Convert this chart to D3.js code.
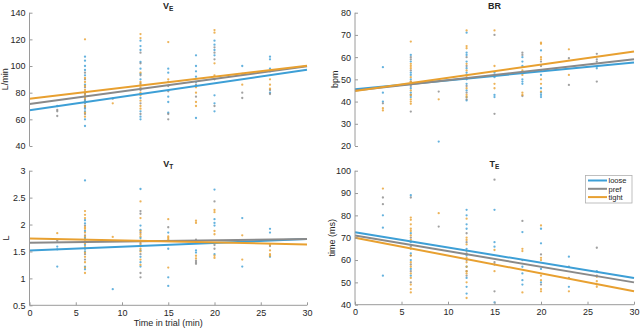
<!DOCTYPE html>
<html><head><meta charset="utf-8">
<script src="https://cdn.jsdelivr.net/npm/d3@7"></script>
<style>
body{margin:0;background:#fff;}
svg{display:block;font-family:"Liberation Sans",Arial,sans-serif;}
</style></head>
<body><svg id="c" width="640" height="329"></svg>
<script>
// ---------- DATA ----------
const conditions = ["loose","pref","tight"];
const condColors = ["#3d9fd6","#8a8a8a","#e8a030"];
const xTicks = [0,5,10,15,20,25,30];

// VE (L/min)  [time, value]
const veLoose = [[3,70],[6,107],[6,104],[6,100],[6,97],[6,93],[6,86],[6,80],[6,77],[6,74],[6,70],[6,68],[6,66],[6,60],[6,55],
 [12,119],[12,115],[12,112],[12,103],[12,98],[12,94],[12,90],[12,83],[12,76],[12,66],[12,62],[12,60],
 [15,98],[15,95],[15,77],[15,73],[15,65],[18,108],[18,100],[18,96],[18,92],[18,88],[18,61],
 [20,119],[20,116],[20,112],[20,108],[20,78],[20,72],[20,66],[23,100],[26,107],[26,105],[26,98],[26,80]];
const vePref = [[3,67],[3,66],[3,62.5],[6,95],[6,90],[6,84],[6,79],[6,75],[6,72],[6,69],[6,64],[9,75.5],
 [12,110],[12,102],[12,93],[12,87],[12,82],[12,79],[12,72],[12,64],[15,88],[15,85],[15,81],[15,64],[15,60],
 [18,86],[18,77],[20,114],[20,110],[20,105],[20,90],[20,70],[23,94],[23,80],[23,76],[26,96],[26,79],[26,82]];
const veTight = [[6,120],[6,91],[6,88],[6,85],[6,82],[6,80],[6,78],[6,76],[6,73],[6,70],[6,65],[6,62],[9,72],
 [12,124],[12,121],[12,95],[12,88],[12,86],[12,84],[12,80],[12,78],[12,74],[12,70],[12,68],[15,118],[15,90],
 [18,84],[18,80],[18,73],[18,70],[20,127],[20,125],[20,102],[20,93],[23,86],[26,90],[26,86],[26,83]];
const veFit = [[66.8,97.2],[71.5,99.8],[75.5,100.2]]; // [value at t=0, value at t=30] loose, pref, tight
const veTicks = [40,60,80,100,120,140];

// BR (bpm)
const brLoose = [[3,55.5],[3,44],[3,40],[6,61],[6,58],[6,53],[6,52],[6,50],[6,48],[6,46],[6,44],[6,42],[9,22],
 [12,71],[12,62],[12,61],[12,58],[12,55],[12,53],[12,50],[12,48],[12,45],[12,42],[12,40.5],[15,53],[15,51],[15,43],[15,42],
 [18,60],[18,58],[18,56],[18,50],[18,49],[18,48],[20,63],[20,52],[20,46],[20,44],[20,43],[20,42],[26,55]];
const brPref = [[3,39.2],[6,60],[6,59],[6,54],[6,49],[6,47],[6,43],[6,35.5],[9,44.5],[12,60],[12,56],[12,52],[12,47],[12,44],[12,41],
 [15,70],[15,34.5],[18,62],[18,61],[18,42.5],[20,58],[20,56],[20,54],[23,59.5],[23,47.5],[26,61.5],[26,59],[26,58],[26,49]];
const brTight = [[3,37],[3,36],[6,67],[6,57],[6,56],[6,55],[6,51],[6,49],[6,45],[6,43],[6,41],[6,40],[6,39],[9,41],
 [12,72],[12,65],[12,64],[12,57],[12,54],[12,51],[12,46],[12,43],[12,42],[15,72],[15,56],[15,48],[15,46],
 [18,54],[18,52],[18,44],[18,43],[20,66.5],[20,66],[20,60],[20,59],[20,50],[20,48],[20,44.5],[23,63.5],[23,52]];
const brFit = [[45.5,57.6],[45.0,59.0],[44.8,62.5]];
const brTicks = [20,30,40,50,60,70,80];

// VT (L)
const vtLoose = [[3,1.59],[3,1.54],[3,1.22],[6,2.82],[6,2.08],[6,2.02],[6,1.88],[6,1.75],[6,1.62],[6,1.55],[6,1.5],[6,1.22],[6,1.17],[9,0.8],
 [12,2.66],[12,1.98],[12,1.9],[12,1.75],[12,1.6],[12,1.52],[12,1.4],[12,1.3],[12,1.22],[15,1.85],[15,1.55],[15,1.02],[15,0.86],
 [18,1.52],[18,1.48],[20,2.65],[20,2.1],[20,2.03],[20,1.98],[20,1.45],[23,2.12],[23,1.22],[26,1.92],[26,1.85],[26,1.4]];
const vtPref = [[3,1.7],[6,1.98],[6,1.8],[6,1.68],[6,1.45],[6,1.35],[12,2.25],[12,2.2],[12,1.85],[12,1.65],[12,1.45],[12,1.1],[12,1.02],
 [15,1.95],[18,1.72],[18,1.33],[18,1.3],[18,1.27],[20,2.43],[20,1.62],[20,1.55],[26,1.6]];
const vtTight = [[3,1.84],[6,2.25],[6,2.18],[6,2.12],[6,1.95],[6,1.92],[6,1.85],[6,1.78],[6,1.72],[6,1.65],[6,1.58],[6,1.48],[6,1.4],[6,1.3],[6,1.2],[6,1.1],[9,1.77],
 [12,2.43],[12,2.12],[12,1.88],[12,1.82],[12,1.78],[12,1.7],[12,1.68],[12,1.62],[12,1.55],[12,1.5],[12,1.35],[12,1.25],
 [15,2.1],[15,1.78],[15,1.75],[15,1.72],[15,1.2],[18,2.07],[18,2.03],[18,1.42],[18,1.37],
 [20,2.27],[20,2.23],[20,1.88],[20,1.82],[20,1.42],[20,1.38],[23,1.8],[23,1.35],[26,1.62],[26,1.52],[26,1.45],[26,1.42]];
const vtFit = [[1.52,1.73],[1.66,1.73],[1.74,1.63]];
const vtTicks = [0.5,1,1.5,2,2.5,3];

// TE (ms)
const teLoose = [[3,80],[3,74.5],[3,53],[6,89],[6,72],[6,68],[6,63],[6,60],[6,56],[6,53],
 [12,82.5],[12,80],[12,76],[12,74],[12,65],[12,62],[12,57],[12,52],[12,48],[12,45],[15,82.5],[15,68],[15,66],[15,41],
 [18,72.5],[18,57],[18,54],[18,51],[18,49],[20,74],[20,67.5],[20,56],[20,50],[23,61.5],[23,48],[26,55]];
const tePref = [[3,88],[3,85],[6,88],[6,70],[6,66],[6,62],[6,58],[6,55],[6,50],[9,75],[12,72],[12,68],[12,63],[12,60],[12,55],[12,53],
 [15,96],[15,59],[15,58],[15,46],[18,77.5],[18,60],[20,62.5],[20,49],[23,57],[23,52],[26,65.5],[26,53]];
const teTight = [[3,92],[6,79],[6,78],[6,76],[6,74],[6,73],[6,71],[6,69],[6,65],[6,62],[6,59],[6,57],[6,54],[6,52],[6,49],[6,47],[6,45.5],[9,81],
 [12,78.5],[12,70],[12,69],[12,67],[12,64],[12,61],[12,59],[12,57],[12,55],[12,54],[12,50],[12,43],[15,64.5],[15,55],
 [18,65],[18,64],[18,45.5],[20,75.5],[20,61],[20,60],[20,53],[20,51],[20,47],[20,46],[23,46],[26,52.5],[26,50.5],[26,49],[26,48]];
const teFit = [[72.4,52.0],[71.0,50.0],[70.0,46.0]];
const teTicks = [40,50,60,70,80,90,100];

// ---------- DRAW ----------
const svg = d3.select("#c");
const axisColor = "#9a9a9a", textColor = "#262626";

const panels = [
  {title:"V", sub:"E", ylab:"L/min", box:[29.5,307,12.7,146], dom:[40,140], ticks:veTicks, data:[veLoose,vePref,veTight], fit:veFit, xaxis:false, labx:7.5},
  {title:"BR", sub:"", ylab:"bpm", box:[355,634,12.7,146], dom:[20,80], ticks:brTicks, data:[brLoose,brPref,brTight], fit:brFit, xaxis:false, labx:338},
  {title:"V", sub:"T", ylab:"L", box:[29.5,307,170.7,305.3], dom:[0.5,3], ticks:vtTicks, data:[vtLoose,vtPref,vtTight], fit:vtFit, xaxis:true, xlabel:"Time in trial (min)", labx:8.5},
  {title:"T", sub:"E", ylab:"time (ms)", box:[355,634,170.7,304.7], dom:[40,100], ticks:teTicks, data:[teLoose,tePref,teTight], fit:teFit, xaxis:true, legend:true, labx:335}
];

panels.forEach(p => {
  const [l,r,t,b] = p.box;
  const x = d3.scaleLinear().domain([0,30]).range([l,r]);
  const y = d3.scaleLinear().domain(p.dom).range([b,t]);
  const g = svg.append("g");

  // points
  p.data.forEach((ser,i) => {
    g.append("g").selectAll("circle").data(ser).join("circle")
      .attr("cx", d => x(d[0])).attr("cy", d => y(d[1])).attr("r", 1.15)
      .attr("fill", condColors[i]).attr("opacity", 0.8);
  });
  // fit lines
  p.fit.forEach((f,i) => {
    g.append("line").attr("x1", x(0)).attr("x2", x(30)).attr("y1", y(f[0])).attr("y2", y(f[1]))
      .attr("stroke", condColors[i]).attr("stroke-width", 2);
  });

  // y axis
  const ya = g.append("g").attr("transform", `translate(${l},0)`)
    .call(d3.axisLeft(y).tickValues(p.ticks).tickSize(-3).tickPadding(4).tickFormat(d3.format("~g")));
  ya.select(".domain").attr("stroke", axisColor).attr("d", `M0,${b}V${t}`);
  ya.selectAll(".tick line").attr("stroke", axisColor);
  ya.selectAll("text").attr("fill", textColor).attr("font-size", 9).attr("font-family","Liberation Sans, Arial, sans-serif");

  if (p.xaxis) {
    const xa = g.append("g").attr("transform", `translate(0,${b})`)
      .call(d3.axisBottom(x).tickValues(xTicks).tickSize(-3).tickPadding(4));
    xa.select(".domain").attr("stroke", axisColor).attr("d", `M${l},0H${r}`);
    xa.selectAll(".tick line").attr("stroke", axisColor);
    xa.selectAll("text").attr("fill", textColor).attr("font-size", 9).attr("font-family","Liberation Sans, Arial, sans-serif");
    if (p.xlabel) {
      g.append("text").attr("x", (l+r)/2).attr("y", b+21).attr("text-anchor","middle")
        .attr("font-size", 9).attr("fill", textColor).text(p.xlabel);
    }
  }

  // title
  const tt = g.append("text").attr("x", (l+r)/2).attr("y", t-4).attr("text-anchor","middle")
    .attr("font-size", 9).attr("font-weight","bold").attr("fill", textColor);
  tt.append("tspan").text(p.title);
  if (p.sub) tt.append("tspan").attr("font-size", 6.5).attr("dy", 2).text(p.sub);

  // y label
  g.append("text").attr("transform", `translate(${p.labx},${(t+b)/2}) rotate(-90)`)
    .attr("text-anchor","middle").attr("font-size", 9).attr("fill", textColor).text(p.ylab);

  if (p.legend) {
    const lg = g.append("g");
    lg.append("rect").attr("x", 585.5).attr("y", 175.5).attr("width", 46.5).attr("height", 27.5)
      .attr("fill","#fff").attr("stroke","#b0b0b0").attr("stroke-width",0.8);
    conditions.forEach((c,i) => {
      const yy = 180.5 + i*8.3;
      lg.append("line").attr("x1",588).attr("x2",607).attr("y1",yy).attr("y2",yy)
        .attr("stroke", condColors[i]).attr("stroke-width",2);
      lg.append("text").attr("x",608.5).attr("y",yy+2.8).attr("font-size",7.5).attr("fill",textColor).text(c);
    });
  }
});
</script></body></html>
